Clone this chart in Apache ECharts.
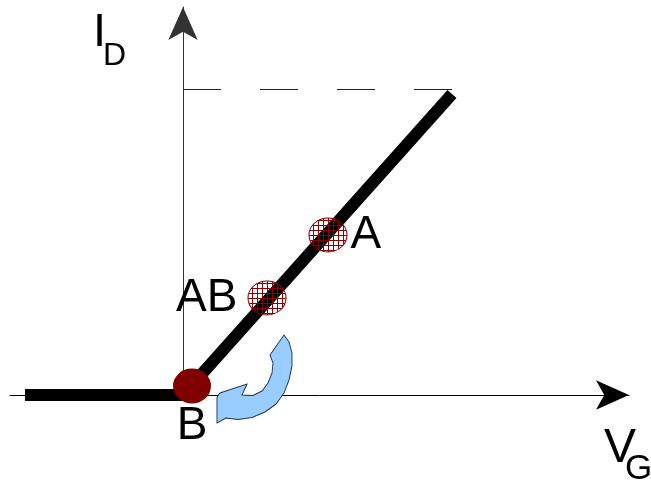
<!DOCTYPE html>
<html>
<head>
<meta charset="utf-8">
<script src="https://cdn.jsdelivr.net/npm/echarts@6/dist/echarts.min.js"></script>
<style>
  html, body { margin: 0; padding: 0; background: #fff; }
  #chart { width: 651px; height: 487px; }
</style>
</head>
<body>
<div id="chart"></div>
<script>
// transfer characteristic, arbitrary units (V_G horizontal, I_D vertical)
const curveX = [-1.58, 0, 2.69];
const curveY = [0, 0, 3.01];

// saturation level (dashed)
const limitX = [0, 2.70];
const limitY = [3.055, 3.055];

// operating points
const pointNames = ['A', 'AB', 'B'];
const pointX = [1.45, 0.84, 0.09];
const pointY = [1.60, 0.97, 0.09];
const labelSide = ['right', 'left', 'bottom'];
const labelGap = [3, 10, 0];

// curved arrow (moving the bias point)
const arrowX = [0.715];
const arrowY = [0.16];

const FONT = "'Liberation Sans', Arial, sans-serif";

// crosshatch fill for A / AB
function hatch() {
  const c = document.createElement('canvas');
  c.width = 5;
  c.height = 5;
  const ctx = c.getContext('2d');
  ctx.fillStyle = '#8b0000';
  ctx.fillRect(0, 0, 5, 1);
  ctx.fillRect(0, 0, 1, 5);
  return c;
}

const arrowPath = 'path://M284,335 L289,342 L292,353 L292,366 L289,380 L284,393 L276,404 L265,412 ' +
  'L252,417.5 L238,419.5 L226,418 L217,423 L217,397 L220,393 L247,384 L242,395 L253,395.5 ' +
  'L262,391 L268,383 L272,373 L273,363 L270,355 Z';

const chart = echarts.init(document.getElementById('chart'));

const pts = pointNames.map((n, i) => ({
  name: n,
  value: [pointX[i], pointY[i]],
  label: {position: labelSide[i], distance: labelGap[i]}
}));

const axisBase = {
  splitLine: {show: false},
  axisTick: {show: false},
  axisLabel: {show: false}
};

// symbols are drawn at unit size and scaled up, so shrink the pattern back
const hatchSize = [38, 34];

chart.setOption({
  animation: false,
  grid: {left: 10, right: 22, top: 7, bottom: 92},
  xAxis: Object.assign({
    type: 'value',
    min: -1.73,
    max: 4.46,
    axisLine: {
      show: true,
      onZero: true,
      symbol: ['none', 'arrow'],
      symbolSize: [22, 33],
      lineStyle: {color: '#000', width: 1}
    }
  }, axisBase),
  yAxis: Object.assign({
    type: 'value',
    min: 0,
    max: 3.88,
    axisLine: {
      show: true,
      onZero: true,
      symbol: ['none', 'arrow'],
      symbolSize: [22, 33],
      lineStyle: {color: '#333', width: 1}
    }
  }, axisBase),
  graphic: [
    {type: 'text', left: 93, top: 10, style: {text: 'I', font: '47px ' + FONT, fill: '#000'}},
    {type: 'text', left: 103, top: 40, style: {text: 'D', font: '32px ' + FONT, fill: '#000'}},
    {type: 'text', left: 604, top: 425, style: {text: 'V', font: '48px ' + FONT, fill: '#000'}},
    {type: 'text', left: 625, top: 452, style: {text: 'G', font: '35px ' + FONT, fill: '#000'}}
  ],
  series: [
    {
      type: 'line',
      data: limitX.map((x, i) => [x, limitY[i]]),
      symbol: 'none',
      lineStyle: {color: '#222', width: 1, type: [38, 39]},
      z: 1
    },
    {
      type: 'line',
      data: curveX.map((x, i) => [x, curveY[i]]),
      symbol: 'none',
      lineStyle: {color: '#000', width: 12, cap: 'butt', join: 'miter'},
      z: 2
    },
    {
      type: 'scatter',
      data: pts.slice(0, 2),
      symbol: 'circle',
      symbolSize: hatchSize,
      itemStyle: {
        color: {
          image: hatch(),
          repeat: 'repeat',
          scaleX: 2 / hatchSize[0],
          scaleY: 2 / hatchSize[1]
        },
        borderColor: '#8b0000',
        borderWidth: 1,
        opacity: 1
      },
      label: {
        show: true,
        formatter: '{b}',
        fontFamily: FONT,
        fontSize: 46,
        color: '#000'
      },
      z: 3
    },
    {
      type: 'scatter',
      data: pts.slice(2),
      symbol: 'circle',
      symbolSize: [38, 35],
      itemStyle: {color: '#800000', opacity: 1},
      label: {
        show: true,
        formatter: '{b}',
        fontFamily: FONT,
        fontSize: 46,
        color: '#000'
      },
      z: 4
    },
    {
      type: 'scatter',
      data: arrowX.map((x, i) => [x, arrowY[i]]),
      symbol: arrowPath,
      symbolSize: [75, 88],
      itemStyle: {color: '#99ccff', borderColor: '#1f3550', borderWidth: 1, opacity: 1},
      z: 5
    }
  ]
});
</script>
</body>
</html>
